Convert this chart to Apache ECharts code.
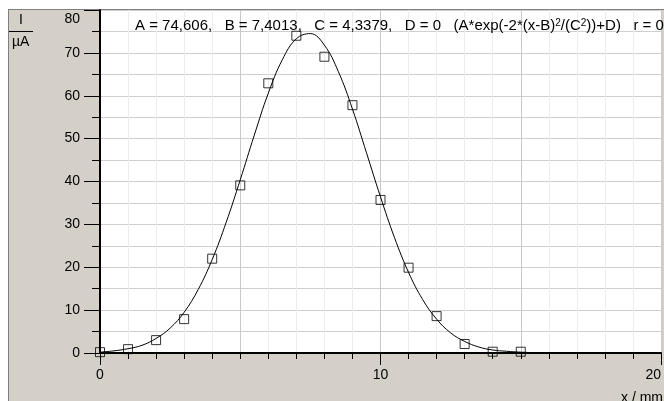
<!DOCTYPE html>
<html>
<head>
<meta charset="utf-8">
<script src="https://cdn.jsdelivr.net/npm/echarts@6/dist/echarts.min.js"></script>
<style>
  html, body { margin: 0; padding: 0; background: #fff; }
  #chart { width: 664px; height: 401px; }
</style>
</head>
<body>
<div id="chart"></div>
<script>
// measured points (x / mm, I / uA)
var pointX = [0, 1, 2, 3, 4, 5, 6, 7, 8, 9, 10, 11, 12, 13, 14, 15];
var pointY = [0.2, 0.9, 3.0, 7.9, 22.0, 39.1, 62.9, 74.0, 69.1, 57.8, 35.7, 19.9, 8.6, 2.1, 0.3, 0.3];

// fitted curve
var curveX = [0, 0.5, 1, 1.5, 2, 2.5, 3, 3.5, 4, 4.5, 5, 5.5, 6, 6.5, 7, 7.5, 8, 8.5, 9, 9.5,
  10, 10.5, 11, 11.5, 12, 12.5, 13, 13.5, 14, 14.5, 15, 16, 17, 18, 19, 20];
var curveY = [0.2, 0.5, 1.0, 1.8, 3.4, 5.8, 9.5, 14.8, 21.8, 30.5, 40.4, 50.8, 60.6, 68.4, 73.3, 74.5,
  71.8, 65.6, 56.9, 46.7, 36.4, 26.9, 18.8, 12.5, 7.9, 4.7, 2.7, 1.4, 0.7, 0.4, 0.2, 0, 0, 0, 0, 0];

var fitText = 'A = 74,606,   B = 7,4013,   C = 4,3379,   D = 0   (A*exp(-2*(x-B){s|2}/(C{s|2}))+D)   r = 0';

var chartDom = document.getElementById('chart');
var myChart = echarts.init(chartDom);
var option;

function pairs(xs, ys) {
  var out = [];
  for (var i = 0; i < xs.length; i++) out.push([xs[i], ys[i]]);
  return out;
}

var font = 'Liberation Sans, Arial, sans-serif';

option = {
  animation: false,
  backgroundColor: '#d4d0c8',
  textStyle: { fontFamily: font },
  grid: {
    left: 100, right: 0, top: 10, bottom: 48,
    show: true, backgroundColor: '#ffffff', borderWidth: 0
  },
  title: {
    text: fitText,
    left: 135, top: 18,
    padding: 0,
    textStyle: {
      fontSize: 15, fontWeight: 'normal', color: '#000', fontFamily: font, lineHeight: 16,
      rich: {
        s: { fontSize: 10, verticalAlign: 'top', color: '#000', fontFamily: font, padding: [0, 0, 7, 0] }
      }
    }
  },
  graphic: [
    { type: 'rect', left: 0, top: 0, shape: { width: 664, height: 9 }, style: { fill: '#fff' }, silent: true },
    { type: 'rect', left: 0, top: 0, shape: { width: 8, height: 401 }, style: { fill: '#fff' }, silent: true },
    { type: 'line', shape: { x1: 8.5, y1: 9, x2: 8.5, y2: 401 }, style: { stroke: '#808080', lineWidth: 1 }, silent: true },
    { type: 'line', shape: { x1: 8, y1: 9.5, x2: 664, y2: 9.5 }, style: { stroke: '#808080', lineWidth: 1 }, silent: true },
    { type: 'text', left: 19, top: 13, style: { text: 'I', fontSize: 14, fill: '#000', fontFamily: font } },
    { type: 'line', shape: { x1: 9, y1: 31.5, x2: 33, y2: 31.5 }, style: { stroke: '#000', lineWidth: 1 } },
    { type: 'text', left: 12, top: 35, style: { text: 'µA', fontSize: 14, fill: '#000', fontFamily: font } },
    { type: 'text', right: 1, top: 391, style: { text: 'x / mm', fontSize: 14, fill: '#000', fontFamily: font } }
  ],
  xAxis: [
    {
      type: 'value', min: 0, max: 20, interval: 10,
      axisLine: { onZero: false, lineStyle: { color: '#000', width: 2 } },
      axisTick: { length: 12, lineStyle: { color: '#000' } },
      minorTick: { show: true, splitNumber: 10, length: 6, lineStyle: { color: '#000' } },
      splitLine: { show: false },
      axisLabel: {
        color: '#000', fontSize: 14, margin: 15,
        showMinLabel: true, showMaxLabel: true, alignMaxLabel: 'right'
      }
    },
    {
      type: 'value', min: 0, max: 20, interval: 5,
      axisLine: { show: false }, axisTick: { show: false }, axisLabel: { show: false },
      splitLine: { show: true, lineStyle: { color: '#c8c8c8', width: 1 } },
      minorTick: { show: false, splitNumber: 5 },
      minorSplitLine: { show: true, lineStyle: { color: '#ececec', width: 1 } }
    }
  ],
  yAxis: {
    type: 'value', min: 0, max: 80, interval: 10,
    axisLine: { show: true, onZero: false, lineStyle: { color: '#000', width: 2 } },
    axisTick: { show: true, length: 16, lineStyle: { color: '#000' } },
    minorTick: { show: true, splitNumber: 2, length: 8, lineStyle: { color: '#000' } },
    splitLine: { show: true, lineStyle: { color: '#cfcfcf' } },
    minorSplitLine: { show: true, lineStyle: { color: '#cfcfcf' } },
    axisLabel: {
      color: '#000', fontSize: 14, margin: 20,
      formatter: function (v) { return v === 80 ? '{top|80}' : String(v); },
      rich: { top: { fontSize: 14, color: '#000', padding: [18, 0, 0, 0] } }
    }
  },
  series: [
    {
      name: 'fit',
      type: 'line',
      data: pairs(curveX, curveY),
      smooth: 0.4,
      showSymbol: false,
      lineStyle: { color: '#000', width: 1 },
      z: 3
    },
    {
      name: 'I',
      type: 'scatter',
      data: pairs(pointX, pointY),
      symbol: 'rect',
      symbolSize: 9,
      itemStyle: { color: 'rgba(255,255,255,0)', borderColor: '#000', borderWidth: 1 },
      z: 4
    }
  ]
};

option && myChart.setOption(option);
</script>
</body>
</html>
